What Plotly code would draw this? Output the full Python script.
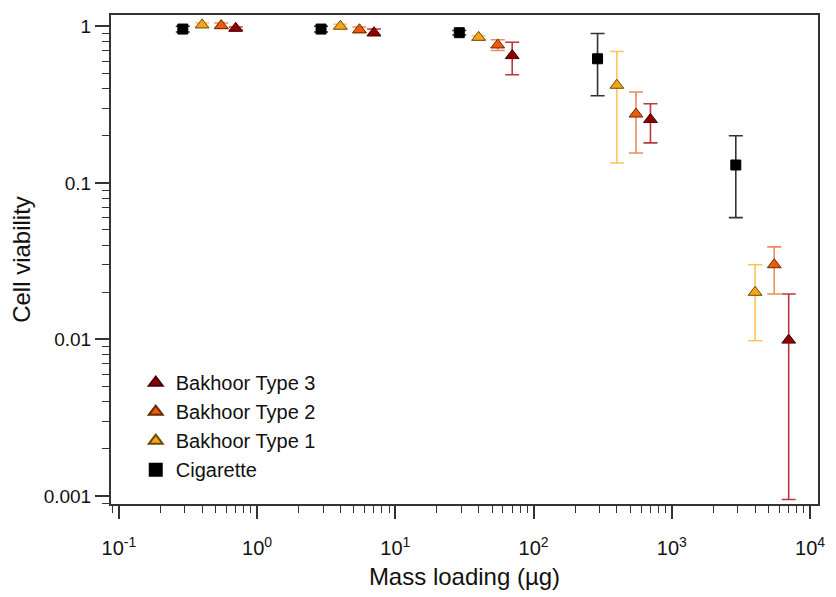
import plotly.graph_objects as go

# ---- data ----
names = ["Bakhoor Type 3", "Bakhoor Type 2", "Bakhoor Type 1", "Cigarette"]

t3_x = [0.7, 7, 70, 700, 7000]
t3_y = [0.97, 0.91, 0.65, 0.254, 0.0099]
t3_hi = [0.99, 0.96, 0.79, 0.32, 0.0195]
t3_lo = [0.95, 0.87, 0.49, 0.18, 0.00095]

t2_x = [0.55, 5.5, 55, 550, 5500]
t2_y = [1.01, 0.95, 0.76, 0.275, 0.030]
t2_hi = [1.05, 0.99, 0.82, 0.38, 0.039]
t2_lo = [0.97, 0.91, 0.70, 0.155, 0.0195]

t1_x = [0.4, 4, 40, 400, 4000]
t1_y = [1.02, 1.0, 0.85, 0.42, 0.020]
t1_hi = [1.05, 1.03, 0.87, 0.69, 0.030]
t1_lo = [0.99, 0.97, 0.82, 0.134, 0.0098]

cig_x = [0.29, 2.9, 29, 290, 2900]
cig_y = [0.96, 0.96, 0.91, 0.62, 0.13]
cig_hi = [1.0, 1.0, 0.94, 0.90, 0.20]
cig_lo = [0.92, 0.92, 0.88, 0.36, 0.06]

x_tickvals = [0.1, 1, 10, 100, 1000, 10000]
x_ticktext = ["10<sup>-1</sup>", "10<sup>0</sup>", "10<sup>1</sup>", "10<sup>2</sup>", "10<sup>3</sup>", "10<sup>4</sup>"]
y_tickvals = [1, 0.1, 0.01, 0.001]
y_ticktext = ["1", "0.1", "0.01", "0.001"]

series = [
    (names[0], t3_x, t3_y, t3_hi, t3_lo, "#8b0000", "#b8383c", "triangle-up", 12, "#4a0000"),
    (names[1], t2_x, t2_y, t2_hi, t2_lo, "#ec5a0c", "#ee8a5c", "triangle-up", 12, "#6a2a00"),
    (names[2], t1_x, t1_y, t1_hi, t1_lo, "#f5a41c", "#fdc35a", "triangle-up", 12, "#6a4a00"),
    (names[3], cig_x, cig_y, cig_hi, cig_lo, "#000000", "#333333", "square", 10, "#000000"),
]

fig = go.Figure()
for name, xs, ys, hi, lo, mc, ec, sym, sz, lc in series:
    plus = [h - y for h, y in zip(hi, ys)]
    minus = [y - l for l, y in zip(lo, ys)]
    fig.add_trace(go.Scatter(
        x=xs, y=ys, mode="markers", name=name,
        marker=dict(symbol=sym, size=sz, color=mc, line=dict(color=lc, width=1)),
        error_y=dict(type="data", symmetric=False, array=plus, arrayminus=minus,
                     color=ec, thickness=1.6, width=7),
    ))

font_family = "Liberation Sans, Arial, sans-serif"
fig.update_layout(
    width=836, height=597,
    margin=dict(l=111, r=11, t=15, b=93),
    paper_bgcolor="white", plot_bgcolor="white",
    font=dict(family=font_family, color="#111111", size=19),
    showlegend=True,
    legend=dict(x=0.035, y=0.288, xanchor="left", yanchor="top",
                font=dict(size=20, color="#111111"), bgcolor="rgba(255,255,255,0)",
                tracegroupgap=0, itemsizing="constant"),
)
fig.update_xaxes(
    type="log", range=[-1.057, 4.057],
    tickvals=x_tickvals, ticktext=x_ticktext,
    ticks="outside", ticklen=13, tickwidth=1.5, tickcolor="#333333",
    minor=dict(ticks="outside", ticklen=7, tickwidth=1.3, tickcolor="#333333", dtick="D1", showgrid=False),
    showline=True, mirror=True, linecolor="#333333", linewidth=2,
    showgrid=False, zeroline=False,
    tickfont=dict(size=20),
    ticklabelstandoff=12,
    title=dict(text="Mass loading (µg)", font=dict(size=24), standoff=10),
)
fig.update_yaxes(
    type="log", range=[-3.051, 0.072],
    tickvals=y_tickvals, ticktext=y_ticktext,
    ticks="outside", ticklen=14, tickwidth=1.5, tickcolor="#333333",
    minor=dict(ticks="outside", ticklen=7, tickwidth=1.3, tickcolor="#333333", dtick="D1", showgrid=False),
    showline=True, mirror=True, linecolor="#333333", linewidth=2,
    showgrid=False, zeroline=False,
    tickfont=dict(size=19),
    title=dict(text="Cell viability", font=dict(size=24), standoff=6),
)

fig.write_html("out.html")
